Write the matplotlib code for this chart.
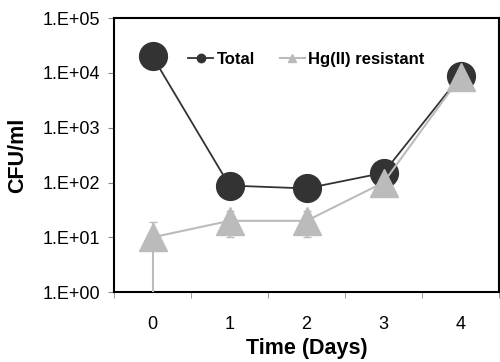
import numpy as np
import matplotlib.pyplot as plt

plt.rcParams['font.family'] = ['Liberation Sans', 'DejaVu Sans']

# Данные
days = [0, 1, 2, 3, 4]
day_labels = ['0', '1', '2', '3', '4']
total = [20000, 88, 78, 150, 8800]
hg_resistant = [10, 20, 20, 100, 8500]
hg_err_low = [9.99, 10, 10, 0, 0]
hg_err_high = [9, 10, 10, 0, 0]

fig = plt.figure(figsize=(5, 3.62), dpi=100)
ax = fig.add_axes([0.228, 0.193, 0.77, 0.757])

ax.plot(days, total, color='#333333', lw=1.3, marker='o', ms=20,
        mfc='#333333', mec='#333333', label='Total', zorder=3)
# планки погрешностей отдельно, чтобы не попали в легенду
ax.errorbar(days, hg_resistant, yerr=[hg_err_low, hg_err_high], fmt='none',
            ecolor='#bbbbbb', capsize=3, elinewidth=1.5, zorder=4)
ax.plot(days, hg_resistant, color='#bbbbbb', lw=1.5, marker='^', ms=20,
        mfc='#bbbbbb', mec='#bbbbbb', label='Hg(II) resistant', zorder=5)

ax.set_yscale('log')
ax.set_ylim(1, 1e5)
ax.set_xlim(-0.5, 4.5)
ax.set_yticks([1, 10, 100, 1e3, 1e4, 1e5])
ax.set_yticklabels(['1.E+00', '1.E+01', '1.E+02', '1.E+03', '1.E+04', '1.E+05'])
ax.yaxis.set_minor_locator(plt.NullLocator())

# подписи по центру категорий, засечки между ними
ax.set_xticks(days)
ax.set_xticklabels(day_labels)
ax.tick_params(axis='x', which='major', length=0, pad=17)
ax.set_xticks(np.arange(-0.5, 4.6, 1), minor=True)
ax.tick_params(axis='x', which='minor', length=4, direction='out', color='#888888')
ax.tick_params(axis='y', length=4, direction='out', color='#888888', pad=6)
ax.tick_params(labelsize=13)

for s in ax.spines.values():
    s.set_linewidth(1.5)

ax.set_ylabel('CFU/ml', fontsize=15.5, fontweight='bold', labelpad=10)
ax.set_xlabel('Time (Days)', fontsize=15.5, fontweight='bold', labelpad=4)

leg = ax.legend(loc='upper center', bbox_to_anchor=(0.5, 0.93), ncol=2, frameon=False,
                markerscale=0.3, handlelength=1.5, handletextpad=0.2, columnspacing=1.5,
                prop={'weight': 'bold', 'size': 12})

fig.savefig('out.png', dpi=100)
